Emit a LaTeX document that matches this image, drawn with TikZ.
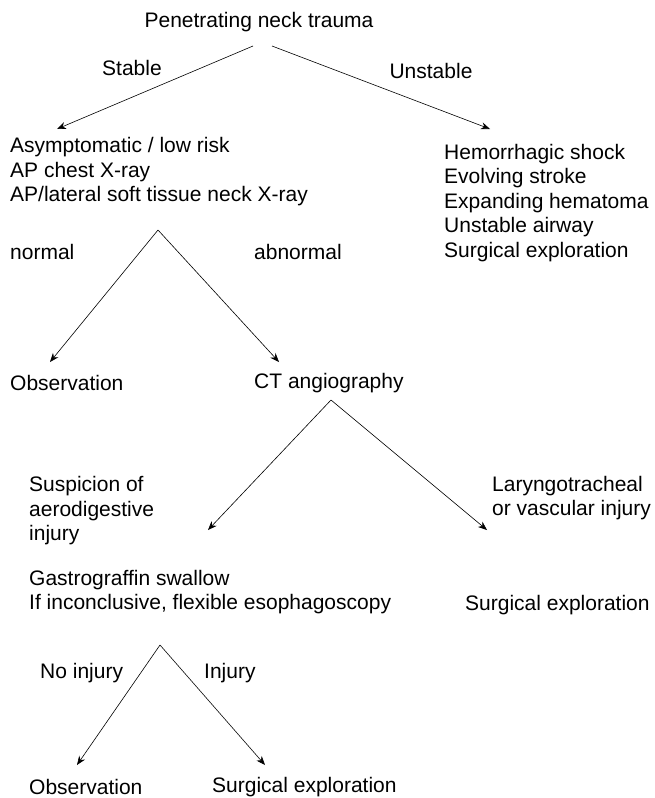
\documentclass[tikz,border=0pt]{standalone}
\usepackage{fontspec}
\setmainfont{Liberation Sans}
\usetikzlibrary{arrows.meta}
\begin{document}
\begin{tikzpicture}[x=1pt,y=-1pt,
  txt/.style={inner sep=0pt, align=left, font=\fontsize{21}{24.5}\selectfont},
  arr/.style={-{Stealth[length=9pt,width=7pt]}, line width=0.6pt}]
\useasboundingbox (0,0) rectangle (654,798);
% level 0
\node[txt] (title) at (259,22) {Penetrating neck trauma};
\coordinate (tA) at (253,46);
\coordinate (tB) at (272,46);
\coordinate (stabTip) at (57,129);
\coordinate (unstTip) at (490,129);
\draw[arr] (tA) -- (stabTip);
\draw[arr] (tB) -- (unstTip);
\node[txt] (lstable) at (132,68) {Stable};
\node[txt] (lunstable) at (431,71) {Unstable};
% level 1
\node[txt, anchor=west] (stab) at (10,172) {Asymptomatic / low risk\\AP chest X-ray\\AP/lateral soft tissue neck X-ray};
\node[txt, anchor=west] (unst) at (444,203) {Hemorrhagic shock\\Evolving stroke\\Expanding hematoma\\Unstable airway\\Surgical exploration};
% level 2
\coordinate (apexA) at (158,230);
\coordinate (obsTip) at (50,362);
\coordinate (ctTip) at (279,362);
\draw[arr] (apexA) -- (obsTip);
\draw[arr] (apexA) -- (ctTip);
\node[txt, anchor=west] (lnormal) at (10,252) {normal};
\node[txt, anchor=west] (labnormal) at (254,252) {abnormal};
\node[txt, anchor=west] (obs1) at (10,383) {Observation};
\node[txt, anchor=west] (ct) at (254,383) {CT angiography};
% level 3
\coordinate (apexB) at (331,400);
\coordinate (suspTip) at (208,530);
\coordinate (laryTip) at (487,530);
\draw[arr] (apexB) -- (suspTip);
\draw[arr] (apexB) -- (laryTip);
\node[txt, anchor=west] (susp) at (29,511) {Suspicion of\\aerodigestive\\injury};
\node[txt, anchor=west] (lary) at (492,498) {Laryngotracheal\\or vascular injury};
\node[txt, anchor=west] (gastro) at (29,592) {Gastrograffin swallow\\If inconclusive, flexible esophagoscopy};
\node[txt, anchor=west] (surg1) at (465,605) {Surgical exploration};
% level 4
\coordinate (apexC) at (160,645);
\coordinate (obs2Tip) at (77,765);
\coordinate (surg2Tip) at (265,765);
\draw[arr] (apexC) -- (obs2Tip);
\draw[arr] (apexC) -- (surg2Tip);
\node[txt, anchor=west] (lnoinj) at (40,673) {No injury};
\node[txt, anchor=west] (linj) at (204,673) {Injury};
\node[txt, anchor=west] (obs2) at (29,787) {Observation};
\node[txt, anchor=west] (surg2) at (212,787) {Surgical exploration};
\end{tikzpicture}
\end{document}
